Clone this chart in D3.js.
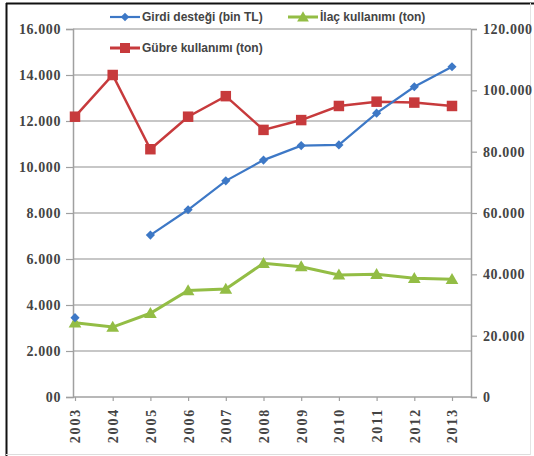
<!DOCTYPE html>
<html><head><meta charset="utf-8">
<script src="https://cdn.jsdelivr.net/npm/d3@7"></script>
<style>body{margin:0;background:#fff}svg{display:block}</style>
</head><body>
<svg id="c" width="534" height="456"></svg>
<script>
const years = ["2003","2004","2005","2006","2007","2008","2009","2010","2011","2012","2013"];
const girdiDestegi = [3450, null, 7040, 8140, 9400, 10300, 10930, 10960, 12340, 13490, 14360];   // left axis
const ilacKullanimi = [24200, 22800, 27300, 34700, 35200, 43600, 42500, 39800, 40000, 38700, 38400]; // right axis
const gubreKullanimi = [91400, 105000, 80800, 91400, 98100, 87100, 90300, 94900, 96300, 96000, 94900]; // right axis
const leftTicks = [0,2000,4000,6000,8000,10000,12000,14000,16000];
const leftTickLabels = ["00","2.000","4.000","6.000","8.000","10.000","12.000","14.000","16.000"];
const rightTicks = [0,20000,40000,60000,80000,100000,120000];
const rightTickLabels = ["0","20.000","40.000","60.000","80.000","100.000","120.000"];
const seriesNames = ["Girdi desteği (bin TL)","İlaç kullanımı (ton)","Gübre kullanımı (ton)"];

const svg = d3.select("#c");
const L = 73, R = 471, T = 29, B = 397;
const x = d3.scalePoint().domain(years).range([75, 452]);
const yL = d3.scaleLinear().domain([0,16000]).range([B,T]);
const yR = d3.scaleLinear().domain([0,120000]).range([B,T]);

// frame
svg.append("line").attr("x1",6).attr("x2",534).attr("y1",3.5).attr("y2",3.5).attr("stroke","#111").attr("stroke-width",2);
svg.append("line").attr("x1",6.5).attr("x2",6.5).attr("y1",3).attr("y2",456).attr("stroke","#111").attr("stroke-width",2);
svg.append("line").attr("x1",6).attr("x2",530).attr("y1",454.5).attr("y2",454.5).attr("stroke","#ddd");
svg.append("line").attr("x1",530.5).attr("x2",530.5).attr("y1",3).attr("y2",455).attr("stroke","#e4e4e4");

// gridlines
svg.append("g").selectAll("line").data(leftTicks.slice(1)).join("line")
  .attr("x1",L).attr("x2",R).attr("y1",d=>yL(d)).attr("y2",d=>yL(d))
  .attr("stroke","#b4b4b4").attr("stroke-width",1.5);

// axes
const fontAx = "'Liberation Serif', serif";
const gL = svg.append("g").attr("transform",`translate(${L},0)`)
  .call(d3.axisLeft(yL).tickValues(leftTicks).tickFormat((d,i)=>leftTickLabels[i]).tickSize(7).tickPadding(5));
const gR = svg.append("g").attr("transform",`translate(${R},0)`)
  .call(d3.axisRight(yR).tickValues(rightTicks).tickFormat((d,i)=>rightTickLabels[i]).tickSize(6).tickPadding(6));
const gX = svg.append("g").attr("transform",`translate(0,${B})`)
  .call(d3.axisBottom(x).tickSize(4).tickSizeOuter(0));
gX.select(".domain").attr("d",`M${L},0H${R+1}`);
[gL,gR,gX].forEach(g=>{
  g.select(".domain").attr("stroke","#a0a0a0").attr("stroke-width",1.5);
  g.selectAll(".tick line").attr("stroke","#a0a0a0").attr("stroke-width",1.2);
  g.selectAll("text").attr("font-family",fontAx).attr("font-weight","bold").attr("fill","#444");
});
gL.selectAll("text").attr("font-size",14).attr("letter-spacing",0.6);
gR.selectAll("text").attr("font-size",14).attr("letter-spacing",0.6);
gX.selectAll("text").attr("font-size",14).attr("letter-spacing",1.8)
  .attr("transform","rotate(-90)").attr("text-anchor","end").attr("x",-11).attr("y",0).attr("dy","0.35em");

// lines
const mkLine = (ys)=>d3.line().defined(d=>d!=null).x((d,i)=>x(years[i])).y(d=>ys(d));
const cBlue="#3d78c6", cGreen="#93bd45", cRed="#c73a3c";
svg.append("path").datum(ilacKullanimi).attr("d",mkLine(yR)).attr("fill","none").attr("stroke",cGreen).attr("stroke-width",3);
svg.append("path").datum(gubreKullanimi).attr("d",mkLine(yR)).attr("fill","none").attr("stroke",cRed).attr("stroke-width",2.5);
svg.append("path").datum(girdiDestegi).attr("d",mkLine(yL)).attr("fill","none").attr("stroke",cBlue).attr("stroke-width",2.2);

const sym = (type,size)=>d3.symbol().type(type).size(size);
svg.append("g").selectAll("path").data(gubreKullanimi).join("path")
  .attr("transform",(d,i)=>`translate(${x(years[i])},${yR(d)})`).attr("d",sym(d3.symbolSquare,110)()).attr("fill",cRed);
svg.append("g").selectAll("path").data(ilacKullanimi).join("path")
  .attr("transform",(d,i)=>`translate(${x(years[i])},${yR(d)+1})`).attr("d",sym(d3.symbolTriangle,70)()).attr("fill",cGreen);
svg.append("g").selectAll("path").data(girdiDestegi.map((d,i)=>({d,i})).filter(o=>o.d!=null)).join("path")
  .attr("transform",o=>`translate(${x(years[o.i])},${yL(o.d)}) rotate(45)`).attr("d",sym(d3.symbolSquare,42)()).attr("fill",cBlue);

// legend
const leg = [
  {name:seriesNames[0], c:cBlue, x:110, y:17, t:"d"},
  {name:seriesNames[1], c:cGreen, x:288, y:17, t:"t"},
  {name:seriesNames[2], c:cRed, x:110, y:48, t:"s"}
];
const lg = svg.append("g");
leg.forEach(e=>{
  const g = lg.append("g").attr("transform",`translate(${e.x},${e.y})`);
  g.append("line").attr("x1",0).attr("x2",30).attr("stroke",e.c).attr("stroke-width",e.t==="d"?2.2:3);
  const p = g.append("path").attr("fill",e.c);
  if(e.t==="d") p.attr("d",sym(d3.symbolSquare,36)()).attr("transform","translate(15,0) rotate(45)");
  if(e.t==="t") p.attr("d",sym(d3.symbolTriangle,60)()).attr("transform","translate(15,1)");
  if(e.t==="s") p.attr("d",sym(d3.symbolSquare,100)()).attr("transform","translate(15,0)");
  g.append("text").attr("x",32).attr("dy","0.35em").attr("font-family","'Liberation Sans',sans-serif")
    .attr("font-size",12).attr("font-weight","bold").attr("fill","#444").text(e.name);
});
</script>
</body></html>
